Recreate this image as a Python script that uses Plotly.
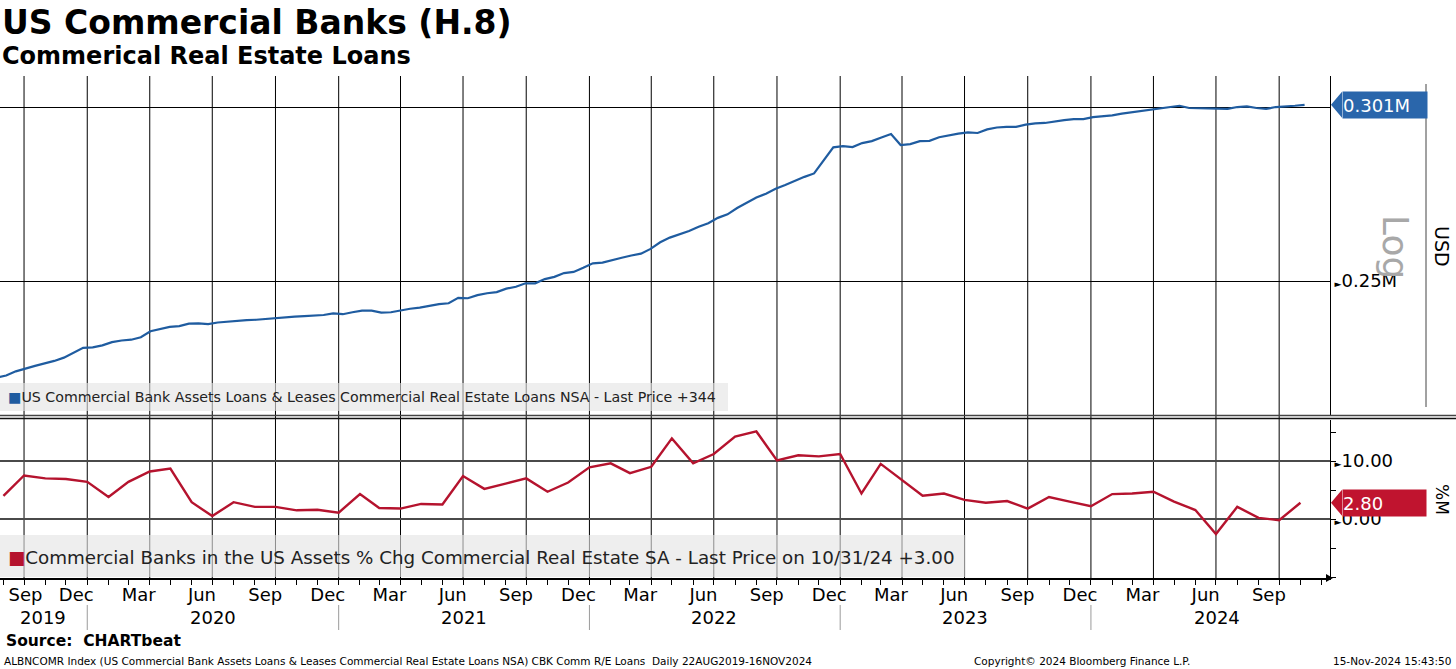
import numpy as np
import pandas as pd
import plotly.graph_objects as go

# ---------------- data ----------------
cre_dates = pd.date_range("2019-08-21", "2024-11-06", freq="14D")
cre_loans_musd = [
    0.2258, 0.2263, 0.2273, 0.2280, 0.2286, 0.2292, 0.2298, 0.2306, 0.2317, 0.2330,
    0.2331, 0.2336, 0.2344, 0.2348, 0.2350, 0.2356, 0.2371, 0.2376, 0.2382, 0.2384,
    0.2390, 0.2391, 0.2389, 0.2393, 0.2395, 0.2398, 0.2399, 0.2400, 0.2402, 0.2405,
    0.2407, 0.2408, 0.2409, 0.2411, 0.2412, 0.2416, 0.2414, 0.2419, 0.2423, 0.2423,
    0.2418, 0.2419, 0.2424, 0.2428, 0.2431, 0.2435, 0.2440, 0.2442, 0.2456, 0.2455,
    0.2463, 0.2468, 0.2471, 0.2480, 0.2485, 0.2494, 0.2494, 0.2505, 0.2511, 0.2521,
    0.2524, 0.2535, 0.2547, 0.2549, 0.2556, 0.2562, 0.2568, 0.2573, 0.2586, 0.2604,
    0.2617, 0.2625, 0.2635, 0.2647, 0.2657, 0.2672, 0.2682, 0.2700, 0.2716, 0.2730,
    0.2741, 0.2755, 0.2766, 0.2779, 0.2790, 0.2800, 0.2837, 0.2878, 0.2882, 0.2879,
    0.2891, 0.2897, 0.2908, 0.2919, 0.2885, 0.2888, 0.2897, 0.2898, 0.2909, 0.2915,
    0.2920, 0.2924, 0.2922, 0.2933, 0.2939, 0.2941, 0.2941, 0.2948, 0.2952, 0.2953,
    0.2958, 0.2962, 0.2965, 0.2965, 0.2971, 0.2973, 0.2977, 0.2982, 0.2986, 0.2989,
    0.2993, 0.2997, 0.3002, 0.3007, 0.3000, 0.2999, 0.2999, 0.2996, 0.2997, 0.3003,
    0.3005, 0.3000, 0.2997, 0.3003, 0.3004, 0.3007, 0.3010,
]

chg_dates = pd.date_range("2019-09-01", "2024-11-01", freq="MS") - pd.Timedelta(days=1)
chg_pct = [
    4.0, 7.5, 7.0, 6.9, 6.4,                                           # 2019 Aug-Dec
    3.8, 6.4, 8.2, 8.7, 2.9, 0.5, 2.9, 2.1, 2.1, 1.5, 1.6, 1.1,         # 2020
    4.3, 1.9, 1.8, 2.6, 2.5, 7.4, 5.2, 6.1, 7.0, 4.7, 6.3, 8.9,         # 2021
    9.6, 7.9, 9.0, 13.9, 9.6, 11.2, 14.2, 15.1, 10.1, 11.0, 10.8, 11.2, # 2022
    4.4, 9.5, 6.7, 4.0, 4.4, 3.3, 2.8, 3.1, 1.8, 3.8, 3.0, 2.2,         # 2023
    4.3, 4.4, 4.7, 3.0, 1.55, -2.6, 2.1, 0.2, -0.2, 2.8,                # 2024 Jan-Oct
]

month_names = {3: "Mar", 6: "Jun", 9: "Sep", 12: "Dec"}
years = [2019, 2020, 2021, 2022, 2023, 2024]
top_ticks = [0.25, 0.30]
top_ticktext = ["0.25M", ""]
bot_ticks = [10, 0]
bot_ticktext = ["10.00", "0.00"]

title = "US Commercial Banks (H.8)"
subtitle = "Commerical Real Estate Loans"
legend_top = "US Commercial Bank Assets Loans &amp; Leases Commercial Real Estate Loans NSA - Last Price +344"
legend_bot = "Commercial Banks in the US Assets % Chg Commercial Real Estate SA - Last Price on 10/31/24 +3.00"
source = "Source:&nbsp;&nbsp;CHARTbeat"
footer = ("ALBNCOMR Index (US Commercial Bank Assets Loans &amp; Leases Commercial Real Estate Loans NSA) "
          "CBK Comm R/E Loans&nbsp;&nbsp;Daily 22AUG2019-16NOV2024")
copyright_txt = "Copyright© 2024 Bloomberg Finance L.P."
stamp = "15-Nov-2024 15:43:50"

# ---------------- styling ----------------
BLUE = "#1f5ca0"
BLUE_TAG = "#2a66ab"
RED = "#b5132e"
RED_TAG = "#c0142f"
FONT = "DejaVu Sans"

W, H = 1456, 669
ML, MR, MT, MB = 0, 126, 76, 91
PH = H - MT - MB            # plot height in px
PW = W - ML - MR


def py(p):   # pixel row -> paper y
    return (H - MB - p) / PH


def px(p):   # pixel col -> paper x
    return (p - ML) / PW


x_range = ["2019-08-26", "2024-12-13"]
top_range = [-0.66339, -0.50824]
bot_range = [-10.17, 17.07]

month_ends = pd.date_range("2019-09-01", "2024-12-01", freq="MS") - pd.Timedelta(days=1)
quarter_ends = [d for d in month_ends if d.month in (3, 6, 9, 12)]
year_ends = [d for d in month_ends if d.month == 12]

q_starts = pd.date_range("2019-09-01", "2024-09-01", freq="3MS")
label_dates = [d + pd.Timedelta(days=14) for d in q_starts]
label_dates[0] = pd.Timestamp("2019-10-02")
label_text = [month_names[d.month] for d in q_starts]

year_pos = [pd.Timestamp("2019-10-27")] + [pd.Timestamp(f"{y}-07-01") for y in years[1:]]

fig = go.Figure()
fig.add_trace(go.Scatter(x=cre_dates, y=cre_loans_musd, mode="lines",
                         line=dict(color=BLUE, width=2.2), xaxis="x", yaxis="y",
                         showlegend=False, hoverinfo="skip"))
fig.add_trace(go.Scatter(x=chg_dates, y=chg_pct, mode="lines",
                         line=dict(color=RED, width=2.4), xaxis="x2", yaxis="y2",
                         showlegend=False, hoverinfo="skip"))

tri = "<span style='font-size:9px'>►</span>"

shapes = []
# vertical quarter grid lines
for d in quarter_ends:
    shapes.append(dict(type="line", xref="x", yref="paper", x0=d, x1=d, y0=0, y1=1,
                       line=dict(color="black", width=1), layer="below"))
# legend boxes
shapes.append(dict(type="rect", xref="paper", yref="paper", x0=0, x1=px(728),
                   y0=py(411), y1=py(383), fillcolor="rgba(228,228,228,0.62)",
                   line=dict(width=0), layer="below"))
shapes.append(dict(type="rect", xref="paper", yref="paper", x0=0, x1=px(966),
                   y0=py(577), y1=py(535), fillcolor="rgba(228,228,228,0.62)",
                   line=dict(width=0), layer="below"))
# panel separator
shapes.append(dict(type="line", xref="paper", yref="paper", x0=0, x1=px(W), y0=py(415.5), y1=py(415.5),
                   line=dict(color="#444444", width=1.6)))
shapes.append(dict(type="line", xref="paper", yref="paper", x0=0, x1=px(W), y0=py(418.5), y1=py(418.5),
                   line=dict(color="#111111", width=1.4)))
# right info panel line
shapes.append(dict(type="line", xref="paper", yref="paper", x0=px(1426), x1=px(1426), y0=py(407), y1=py(84),
                   line=dict(color="#444444", width=1)))
# year separators below axis
for d in year_ends:
    shapes.append(dict(type="line", xref="x2", yref="paper", x0=d, x1=d, y0=py(630), y1=py(605),
                       line=dict(color="#9a9a9a", width=1)))
# last value tag tips
shapes.append(dict(type="path", xref="paper", yref="y", xsizemode="pixel", ysizemode="pixel",
                   xanchor=1, yanchor=cre_loans_musd[-1],
                   path="M 1,0 L 12,13 L 12,-13 Z", fillcolor=BLUE_TAG, line=dict(width=0)))
shapes.append(dict(type="path", xref="paper", yref="y2", xsizemode="pixel", ysizemode="pixel",
                   xanchor=1, yanchor=chg_pct[-1],
                   path="M 1,0 L 12,13 L 12,-13 Z", fillcolor=RED_TAG, line=dict(width=0)))
# x axis end arrow
shapes.append(dict(type="path", xref="paper", yref="paper", xsizemode="pixel", ysizemode="pixel",
                   xanchor=1, yanchor=0, path="M -4,4 L 3,0 L -4,-4 Z", fillcolor="black",
                   line=dict(width=0)))

ann = []
ann.append(dict(text=f"<b>{title}</b>", xref="paper", yref="paper", x=0, y=py(22), xanchor="left",
                yanchor="middle", showarrow=False, font=dict(family=FONT, size=33, color="black")))
ann.append(dict(text=f"<b>{subtitle}</b>", xref="paper", yref="paper", x=0, y=py(56), xanchor="left",
                yanchor="middle", showarrow=False, font=dict(family=FONT, size=24, color="black")))
ann.append(dict(text=f"<span style='color:{BLUE}'>■</span>{legend_top}", xref="paper", yref="paper",
                x=px(6), y=py(397), xanchor="left", yanchor="middle", showarrow=False,
                font=dict(family=FONT, size=14.2, color="#222222")))
ann.append(dict(text=f"<span style='color:{RED}'>■</span>{legend_bot}", xref="paper", yref="paper",
                x=px(6), y=py(557), xanchor="left", yanchor="middle", showarrow=False,
                font=dict(family=FONT, size=18.3, color="#222222")))
for d, y in zip(year_pos, years):
    ann.append(dict(text=str(y), xref="x2", yref="paper", x=d, y=py(617), xanchor="center",
                    yanchor="middle", showarrow=False, font=dict(family=FONT, size=18, color="black")))
ann.append(dict(text=f"<b>{source}</b>", xref="paper", yref="paper", x=px(4), y=py(641), xanchor="left",
                yanchor="middle", showarrow=False, font=dict(family=FONT, size=15.5, color="black")))
ann.append(dict(text=footer, xref="paper", yref="paper", x=px(2), y=py(661), xanchor="left",
                yanchor="middle", showarrow=False, font=dict(family=FONT, size=10.5, color="black")))
ann.append(dict(text=copyright_txt, xref="paper", yref="paper", x=px(972), y=py(661), xanchor="left",
                yanchor="middle", showarrow=False, font=dict(family=FONT, size=10.5, color="black")))
ann.append(dict(text=stamp, xref="paper", yref="paper", x=px(1453), y=py(661), xanchor="right",
                yanchor="middle", showarrow=False, font=dict(family=FONT, size=10.5, color="black")))
# right side labels
ann.append(dict(text="Log", xref="paper", yref="paper", x=px(1396), y=py(247), textangle=90,
                xanchor="center", yanchor="middle",
                showarrow=False, font=dict(family=FONT, size=36, color="#a8a8a8")))
ann.append(dict(text="USD", xref="paper", yref="paper", x=px(1442), y=py(246), textangle=90,
                xanchor="center", yanchor="middle",
                showarrow=False, font=dict(family=FONT, size=19, color="black")))
ann.append(dict(text="%M", xref="paper", yref="paper", x=px(1442), y=py(499), textangle=90,
                xanchor="center", yanchor="middle",
                showarrow=False, font=dict(family=FONT, size=17, color="black")))
# last value tags
ann.append(dict(text=f"{cre_loans_musd[-1]:.3f}M", xref="paper", yref="y", x=1,
                y=np.log10(cre_loans_musd[-1]), xanchor="left", yanchor="middle", xshift=12,
                showarrow=False, bgcolor=BLUE_TAG, width=84, height=26, align="left", borderpad=0,
                font=dict(family=FONT, size=18, color="white")))
ann.append(dict(text=f"{chg_pct[-1]:.2f}", xref="paper", yref="y2", x=1, y=chg_pct[-1],
                xanchor="left", yanchor="middle", xshift=12, showarrow=False, bgcolor=RED_TAG,
                width=83, height=26, align="left", borderpad=0,
                font=dict(family=FONT, size=18, color="white")))

fig.update_layout(
    width=W, height=H, margin=dict(l=ML, r=MR, t=MT, b=MB, autoexpand=False),
    paper_bgcolor="white", plot_bgcolor="white", template="none",
    font=dict(family=FONT, size=18, color="black"),
    showlegend=False,
    xaxis=dict(domain=[0, 1], anchor="y", type="date", range=x_range, showgrid=False,
               showticklabels=False, ticks="", zeroline=False, showline=False),
    xaxis2=dict(domain=[0, 1], anchor="y2", type="date", range=x_range, matches="x",
                tickmode="array", tickvals=label_dates, ticktext=label_text,
                ticks="", showgrid=False,
                minor=dict(tickmode="array", tickvals=list(month_ends), ticks="outside", ticklen=5,
                           tickcolor="black", tickwidth=1, showgrid=False),
                showline=True, linecolor="black", linewidth=1.5, zeroline=False,
                tickfont=dict(family=FONT, size=18, color="black"), automargin=False),
    yaxis=dict(domain=[py(415), 1], anchor="x", type="log", range=top_range, side="right",
               tickmode="array", tickvals=top_ticks,
               ticktext=[(tri + t) if t else "" for t in top_ticktext],
               showgrid=True, gridcolor="black", gridwidth=1, ticks="", showline=True,
               linecolor="black", linewidth=1, zeroline=False, automargin=False,
               tickfont=dict(family=FONT, size=18, color="black")),
    yaxis2=dict(domain=[0, py(420)], anchor="x2", range=bot_range, side="right",
                tickmode="array", tickvals=bot_ticks, ticktext=[tri + t for t in bot_ticktext],
                showgrid=True, gridcolor="#4a4a4a", gridwidth=1.5, ticks="", showline=True,
                linecolor="black", linewidth=1, zeroline=False, automargin=False,
                minor=dict(dtick=5, tick0=0, ticks="outside", ticklen=5, tickcolor="black",
                           showgrid=False),
                tickfont=dict(family=FONT, size=18, color="black")),
    shapes=shapes, annotations=ann,
)

fig.write_html("out.html", config={"displayModeBar": False},
               post_script="document.body.style.margin='0';")
